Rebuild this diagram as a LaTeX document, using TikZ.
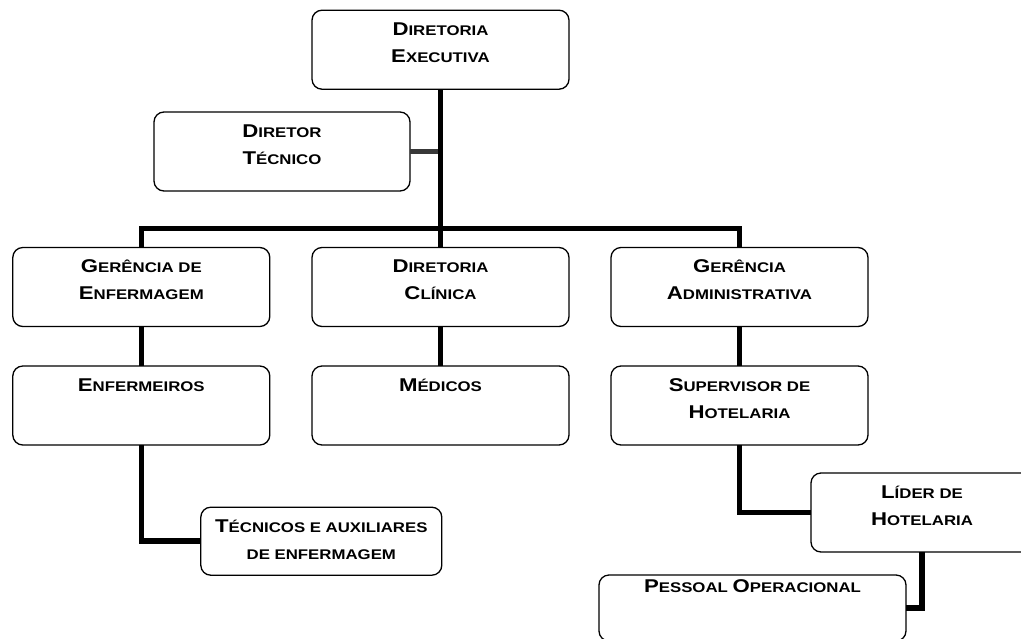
\documentclass[tikz,border=0pt]{standalone}
\usepackage{fontspec}
\setmainfont{Liberation Sans}[FakeStretch=1.2]
\usepackage{tikz}

% big first letter of a small-caps word
\newcommand\Ini[1]{{\fontsize{18.5}{27}\selectfont #1}}
% text block of a box: [first baseline]{width}{height}{text}
\newcommand\boxtxt[4][25pt]{\parbox[c][#3pt][t]{#2pt}{\centering\rule{0pt}{#1}#4}}

\begin{document}
\begin{tikzpicture}[x=1pt,y=-1pt,
  orgbox/.style={draw=black,line width=1.3pt,rounded corners=10pt,fill=white,
    inner sep=0pt,outer sep=0pt,font=\fontsize{14}{27}\selectfont\bfseries},
  link/.style={draw=black,line width=5.5pt},
  sidelink/.style={draw=black!78,line width=5pt}]
\path[use as bounding box,fill=white] (0,0) rectangle (1021,638);
\clip (0,0) rectangle (1021,638);

% top level
\node[orgbox] (dexec) at (440.5, 49.7) {\boxtxt{257}{79}{\Ini{D}IRETORIA\\\Ini{E}XECUTIVA}};
\node[orgbox] (dtec) at (282.0,151.5) {\boxtxt{256}{79}{\Ini{D}IRETOR\\\Ini{T}ÉCNICO}};
\coordinate (bar) at (440.5,228.7);

% second row
\node[orgbox] (genf) at (141.3,287.0) {\boxtxt{257}{79}{\Ini{G}ERÊNCIA DE\\\Ini{E}NFERMAGEM}};
\node[orgbox] (dcli) at (440.5,287.0) {\boxtxt{257}{79}{\Ini{D}IRETORIA\\\Ini{C}LÍNICA}};
\node[orgbox] (gadm) at (739.5,287.0) {\boxtxt{257}{79}{\Ini{G}ERÊNCIA\\\Ini{A}DMINISTRATIVA}};

% third row
\node[orgbox] (enf) at (141.3,405.5) {\boxtxt{257}{79}{\Ini{E}NFERMEIROS}};
\node[orgbox] (med) at (440.5,405.5) {\boxtxt{257}{79}{\Ini{M}ÉDICOS}};
\node[orgbox] (sup) at (739.5,405.5) {\boxtxt{257}{79}{\Ini{S}UPERVISOR DE\\\Ini{H}OTELARIA}};

% lower levels
\node[orgbox] (tec) at (321.3,541.2) {\boxtxt{241}{68}{\Ini{T}ÉCNICOS E AUXILIARES\\DE ENFERMAGEM}};
\node[orgbox] (lid) at (922.0,512.5) {\boxtxt{222}{79}{\Ini{L}ÍDER DE\\\Ini{H}OTELARIA}};
\node[orgbox] (pes) at (752.5,608.0) {\boxtxt[17pt]{307}{66}{\Ini{P}ESSOAL \Ini{O}PERACIONAL}};

% connectors
\draw[sidelink] (dtec.east) -- (dtec.east -| dexec.south);
\draw[link] (dexec.south) -- (bar);
\draw[link] (genf.north) |- (bar) -| (gadm.north);
\draw[link] (bar) -- (dcli.north);
\draw[link] (genf) -- (enf);
\draw[link] (dcli) -- (med);
\draw[link] (gadm) -- (sup);
\draw[link] (enf.south) |- (tec.west);
\draw[link] (sup.south) |- (lid.west);
\draw[link] (lid.south) |- (pes.east);
\end{tikzpicture}
\end{document}
